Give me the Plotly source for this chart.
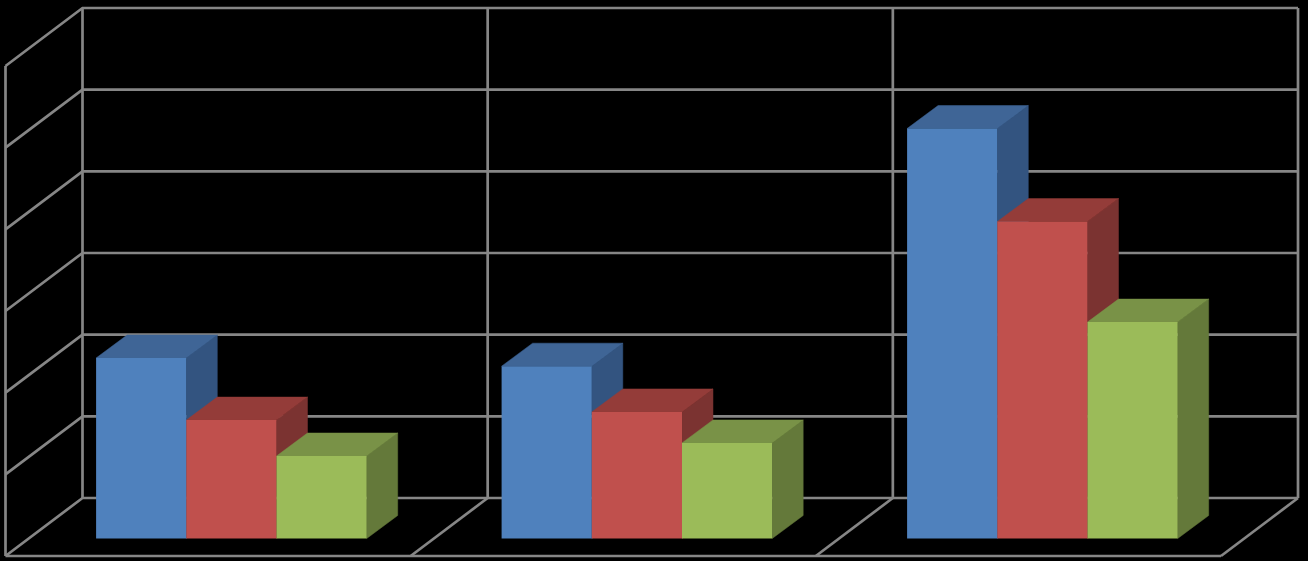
import plotly.graph_objects as go

# Data (value axis has 6 unlabelled gridline intervals)
groups = [0, 1, 2]
series_a = [2.21, 2.11, 5.02]
series_b = [1.45, 1.55, 3.88]
series_c = [1.01, 1.17, 2.65]
gridline_values = [0, 1, 2, 3, 4, 5, 6]

W, H = 1308, 561
PX_X = 405.5      # pixels per group
PX_Y = 81.67      # pixels per value unit
X0_PX, Y0_PX = 231.4, 538.5   # pixel of group 0 centre, value 0

x_range = [-X0_PX / PX_X, (W - X0_PX) / PX_X]
y_range = [(Y0_PX - H) / PX_Y, Y0_PX / PX_Y]

BAR_W = 90.2 / PX_X
BAR_DX, BAR_DY = 31 / PX_X, 23 / PX_Y

# plot box geometry in axis units
BACK_LEFT = (82.5 - X0_PX) / PX_X
BACK_RIGHT = (1298 - X0_PX) / PX_X
BACK_Y0 = (Y0_PX - 498) / PX_Y
WALL_DX, WALL_DY = -77 / PX_X, -58 / PX_Y
DIVS = [BACK_LEFT + (BACK_RIGHT - BACK_LEFT) * i / 3 for i in range(4)]

GRID = dict(color="#868686", width=2.7)
styles = [
    ("#4F81BD", "#3F6596", "#335480"),
    ("#C0504D", "#943C39", "#7B3331"),
    ("#9BBB59", "#799247", "#64793A"),
]
all_series = [series_a, series_b, series_c]

fig = go.Figure()


def line(xs, ys):
    fig.add_trace(go.Scatter(x=xs, y=ys, mode="lines", line=GRID, hoverinfo="skip", showlegend=False))


# back and side wall gridlines
for v in gridline_values:
    y = BACK_Y0 + v
    line([BACK_LEFT + WALL_DX, BACK_LEFT, BACK_RIGHT], [y + WALL_DY, y, y])
# verticals on the back wall
for d in DIVS:
    line([d, d], [BACK_Y0, BACK_Y0 + gridline_values[-1]])
# front edge of the wall
line([BACK_LEFT + WALL_DX] * 2, [BACK_Y0 + WALL_DY, BACK_Y0 + WALL_DY + gridline_values[-1]])
# floor
line([BACK_LEFT + WALL_DX, BACK_RIGHT + WALL_DX], [BACK_Y0 + WALL_DY] * 2)
for d in DIVS[1:]:
    line([d, d + WALL_DX], [BACK_Y0, BACK_Y0 + WALL_DY])

# depth faces (top and side)
for s, vals in enumerate(all_series):
    _, top_c, side_c = styles[s]
    off = (s - 1.5) * BAR_W
    for g, v in zip(groups, vals):
        l, r = g + off, g + off + BAR_W
        fig.add_trace(go.Scatter(
            x=[r, r + BAR_DX, r + BAR_DX, r, r], y=[0, BAR_DY, v + BAR_DY, v, 0],
            mode="lines", fill="toself", fillcolor=side_c, line=dict(width=0.5, color=side_c),
            hoverinfo="skip", showlegend=False))
        fig.add_trace(go.Scatter(
            x=[l, l + BAR_DX, r + BAR_DX, r, l], y=[v, v + BAR_DY, v + BAR_DY, v, v],
            mode="lines", fill="toself", fillcolor=top_c, line=dict(width=0.5, color=top_c),
            hoverinfo="skip", showlegend=False))

# front faces, on an overlaid subplot so they sit above the depth faces
for s, vals in enumerate(all_series):
    fig.add_trace(go.Bar(
        x=groups, y=vals, width=BAR_W, offset=(s - 1.5) * BAR_W,
        marker=dict(color=styles[s][0], line=dict(width=0)),
        xaxis="x2", yaxis="y2", showlegend=False, hoverinfo="skip"))

axis = dict(visible=False, fixedrange=True, showgrid=False, zeroline=False)
fig.update_layout(
    width=W, height=H, margin=dict(l=0, r=0, t=0, b=0),
    paper_bgcolor="#000000", plot_bgcolor="#000000", barmode="overlay", showlegend=False,
    xaxis=dict(range=x_range, **axis),
    yaxis=dict(range=y_range, **axis),
    xaxis2=dict(range=x_range, overlaying="x", anchor="y2", **axis),
    yaxis2=dict(range=y_range, overlaying="y", anchor="x2", **axis),
)
fig.write_html("out.html", config={"displayModeBar": False},
               post_script="document.body.style.margin='0';document.body.style.background='#000';")
